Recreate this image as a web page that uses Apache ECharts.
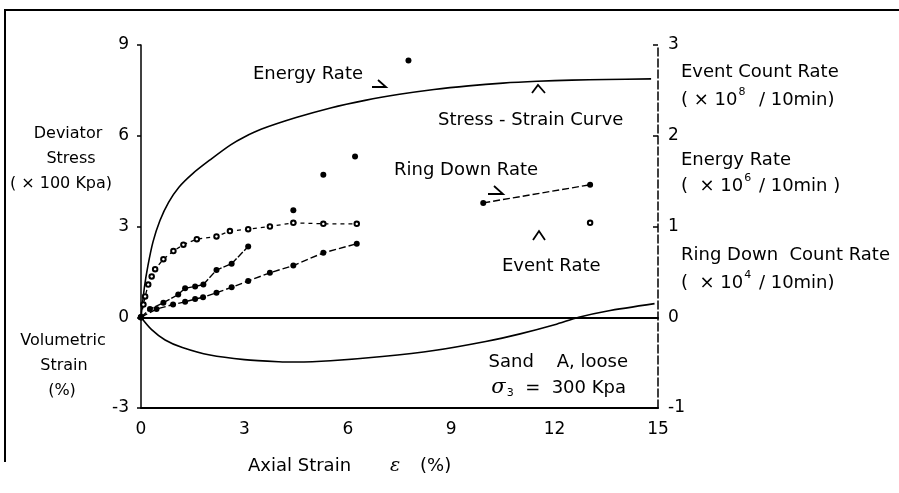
<!DOCTYPE html>
<html>
<head>
<meta charset="utf-8">
<script src="https://cdn.jsdelivr.net/npm/echarts@6/dist/echarts.min.js"></script>
<style>
  html, body { margin: 0; padding: 0; background: #fff; }
  #chart { width: 899px; height: 493px; }
</style>
</head>
<body>
<div id="chart"></div>
<script>
// Axial strain (%) ticks and axis ranges
const strainTicks = [0, 3, 6, 9, 12, 15];
const leftTicks = [-3, 0, 3, 6, 9];
const rightTicks = [-1, 0, 1, 2, 3];

// Deviator stress (x100 kPa) vs axial strain (%)
const stressStrain = [0, 0.1, 0.2, 0.35, 0.55, 0.8, 1.1, 1.5, 2.0, 2.6, 3.0, 3.5, 4.5, 5.5, 6.5, 7.5, 8.5, 9.5, 10.5, 11.5, 12.5, 13.5, 14.8];
const stressValues = [0, 1.0, 1.7, 2.5, 3.2, 3.8, 4.3, 4.75, 5.2, 5.7, 5.96, 6.22, 6.6, 6.92, 7.17, 7.37, 7.53, 7.65, 7.74, 7.8, 7.84, 7.86, 7.88];

// Volumetric strain (%) vs axial strain (%)
const volStrain = [0, 0.3, 0.7, 1.2, 2, 3, 4, 4.5, 5.5, 7, 8.5, 10, 11, 12, 12.7, 13.5, 14.9];
const volValues = [0, -0.4, -0.75, -1.0, -1.25, -1.4, -1.47, -1.48, -1.44, -1.3, -1.1, -0.8, -0.55, -0.25, 0, 0.2, 0.45];

// AE rates on the right-hand scale (null = break in the trace)
const eventStrain = [0, 0.07, 0.12, 0.21, 0.31, 0.41, 0.65, 0.94, 1.23, 1.62, 2.19, 2.58, 3.11, 3.74, 4.42, 5.29, 6.26, null, 13.03];
const eventValues = [0, 0.14, 0.23, 0.36, 0.45, 0.53, 0.64, 0.73, 0.80, 0.86, 0.89, 0.95, 0.97, 1.0, 1.04, 1.03, 1.03, null, 1.04];

const energyStrain = [0, 0.26, 0.65, 1.08, 1.28, 1.57, 1.81, 2.19, 2.63, 3.11, null, 4.42, null, 5.29, null, 6.21, null, 7.76];
const energyValues = [0, 0.09, 0.16, 0.25, 0.32, 0.34, 0.36, 0.52, 0.59, 0.78, null, 1.18, null, 1.57, null, 1.77, null, 2.83];

const ringStrain = [0, 0.45, 0.93, 1.28, 1.57, 1.8, 2.19, 2.63, 3.11, 3.74, 4.42, 5.29, 6.26, null, 9.93, 13.03];
const ringValues = [0, 0.09, 0.14, 0.17, 0.20, 0.22, 0.27, 0.33, 0.40, 0.49, 0.57, 0.71, 0.81, null, 1.26, 1.46];

function pairs(xs, ys) {
  return xs.map((x, i) => (x === null ? [NaN, '-'] : [x, ys[i]]));
}

const FONT = 'DejaVu Sans';
const INK = '#000';
const FS = 18;
const chart = echarts.init(document.getElementById('chart'));

// text placed by its anchor x and vertical centre
function label(x, y, text, align, size) {
  return { type: 'text', x: x, y: y, silent: true,
    style: { text: text, fill: INK, font: (size || FS) + 'px "' + FONT + '"', align: align || 'left', verticalAlign: 'middle' } };
}
// "( x 10^n / 10min)" style unit lines
function unitLine(x, y, pre, sup, post) {
  return { type: 'text', x: x, y: y, silent: true,
    style: { text: '{a|' + pre + '}{s|' + sup + '}{a|' + post + '}', verticalAlign: 'middle',
      rich: { a: { fontSize: FS, fontFamily: FONT, fill: INK },
              s: { fontSize: 11, fontFamily: FONT, fill: INK, padding: [0, 2, 15, 1] } } } };
}
function arrowHead(points) {
  return { type: 'polyline', silent: true, shape: { points: points }, style: { stroke: INK, lineWidth: 1.8, fill: null } };
}

const tickLabel = { color: INK, fontSize: 17, fontFamily: FONT };

chart.setOption({
  animation: false,
  backgroundColor: '#fff',
  grid: { left: 141, right: 241, top: 45, bottom: 85, show: false },
  xAxis: [{
    type: 'value', min: 0, max: 15, interval: 3, position: 'bottom',
    axisLine: { show: true, onZero: false, lineStyle: { color: INK, width: 2 } },
    axisTick: { show: false },
    splitLine: { show: false },
    axisLabel: Object.assign({ margin: 13, formatter: v => strainTicks.includes(v) ? String(v) : '' }, tickLabel)
  }, {
    type: 'value', min: 0, max: 15, position: 'top',
    axisLine: { show: true, lineStyle: { color: INK, width: 2 } },
    axisTick: { show: false }, axisLabel: { show: false }, splitLine: { show: false }
  }],
  yAxis: [{
    type: 'value', min: -3, max: 9, interval: 3, position: 'left',
    axisLine: { show: true, onZero: false, lineStyle: { color: INK, width: 1.5 } },
    axisTick: { show: true, inside: false, length: 4, lineStyle: { color: INK, width: 1.5 } },
    splitLine: { show: false },
    axisLabel: Object.assign({ margin: 12, formatter: v => leftTicks.includes(v) ? (v < 0 ? '-' + Math.abs(v) : String(v)) : '' }, tickLabel)
  }, {
    type: 'value', min: -1, max: 3, interval: 1, position: 'right',
    axisLine: { show: true, onZero: false, lineStyle: { color: INK, width: 1.5, type: [8, 3] } },
    axisTick: { show: true, inside: true, length: 5, lineStyle: { color: INK, width: 1.5 } },
    splitLine: { show: false },
    axisLabel: Object.assign({ margin: 10, formatter: v => rightTicks.includes(v) ? (v < 0 ? '-' + Math.abs(v) : String(v)) : '' }, tickLabel)
  }],
  series: [{
    name: 'Stress - Strain Curve', type: 'line', smooth: 0.3, showSymbol: false,
    data: pairs(stressStrain, stressValues),
    lineStyle: { color: INK, width: 1.6 },
    markLine: {
      silent: true, symbol: 'none', label: { show: false },
      lineStyle: { color: INK, width: 2, type: 'solid' },
      data: [{ yAxis: 0 }]
    }
  }, {
    name: 'Volumetric Strain', type: 'line', smooth: 0.3, showSymbol: false,
    data: pairs(volStrain, volValues),
    lineStyle: { color: INK, width: 1.6 }
  }, {
    name: 'Event Rate', type: 'line', yAxisIndex: 1, connectNulls: false, showAllSymbol: true,
    data: pairs(eventStrain, eventValues),
    symbol: 'emptyCircle', symbolSize: 4.5,
    itemStyle: { color: INK, borderColor: INK, borderWidth: 1.2 },
    lineStyle: { color: INK, width: 1.3, type: [4, 4] }
  }, {
    name: 'Energy Rate', type: 'line', yAxisIndex: 1, connectNulls: false, showAllSymbol: true,
    data: pairs(energyStrain, energyValues),
    symbol: 'circle', symbolSize: 6,
    itemStyle: { color: INK },
    lineStyle: { color: INK, width: 1.4, type: [7, 2] }
  }, {
    name: 'Ring Down Rate', type: 'line', yAxisIndex: 1, connectNulls: false, showAllSymbol: true,
    data: pairs(ringStrain, ringValues),
    symbol: 'circle', symbolSize: 6,
    itemStyle: { color: INK },
    lineStyle: { color: INK, width: 1.4, type: [7, 3] }
  }],
  graphic: [
    // outer frame
    { type: 'polyline', silent: true, shape: { points: [[5, 462], [5, 10], [899, 10]] }, style: { stroke: INK, lineWidth: 2, fill: null } },

    // left axis titles
    label(68, 134, 'Deviator', 'center', 16),
    label(71, 159, 'Stress', 'center', 16),
    label(61, 184, '( × 100 Kpa)', 'center', 16),
    label(63, 341, 'Volumetric', 'center', 16),
    label(64, 366, 'Strain', 'center', 16),
    label(62, 391, '(%)', 'center', 16),

    // right axis titles
    label(681, 72, 'Event Count Rate'),
    unitLine(681, 100, '( × 10', '8', '  / 10min)'),
    label(681, 160, 'Energy Rate'),
    unitLine(681, 186, '(  × 10', '6', ' / 10min )'),
    label(681, 255, 'Ring Down  Count Rate'),
    unitLine(681, 283, '(  × 10', '4', ' / 10min)'),

    // x axis title
    label(248, 466, 'Axial Strain'),
    { type: 'text', x: 395, y: 466, silent: true, style: { text: 'ε', fill: INK, font: 'italic 19px "DejaVu Serif"', align: 'center', verticalAlign: 'middle' } },
    label(420, 466, '(%)'),

    // in-plot annotations
    label(253, 74, 'Energy Rate'),
    arrowHead([[372, 87], [386, 87], [378, 80]]),
    label(438, 120, 'Stress - Strain Curve'),
    arrowHead([[532, 93], [538, 85], [545, 93]]),
    label(394, 170, 'Ring Down Rate'),
    arrowHead([[488, 194], [503, 194], [494, 186]]),
    arrowHead([[533, 240], [539, 231], [545, 240]]),
    label(502, 266, 'Event Rate'),
    label(628, 362, 'Sand    A, loose', 'right'),
    { type: 'text', x: 626, y: 388, silent: true, style: {
      text: '{i|σ}{u|3}{a|  =  300 Kpa}', verticalAlign: 'middle', align: 'right',
      rich: { a: { fontSize: FS, fontFamily: FONT, fill: INK },
              i: { fontSize: 21, fontFamily: 'DejaVu Serif', fontStyle: 'italic', fill: INK },
              u: { fontSize: 11, fontFamily: FONT, fill: INK, padding: [10, 0, 0, 1] } } } }
  ]
});
</script>
</body>
</html>
